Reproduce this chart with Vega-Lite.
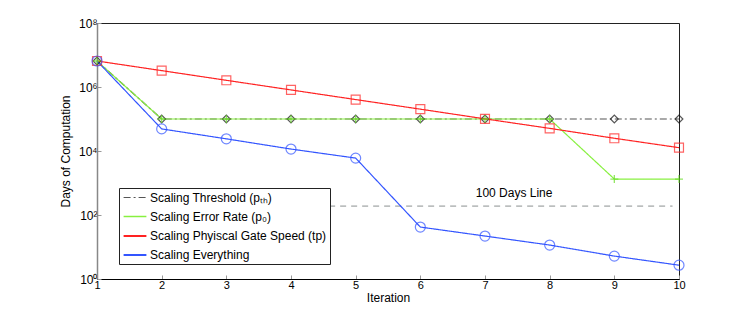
{
  "$schema": "https://vega.github.io/schema/vega-lite/v6.json",
  "autosize": {"type": "none"},
  "width": 582,
  "height": 256,
  "padding": {"left": 97, "top": 23, "right": 68, "bottom": 34},
  "background": "white",
  "config": {
    "font": "Liberation Sans",
    "view": {"stroke": "#222", "strokeWidth": 1},
    "axis": {"grid": false, "labelFont": "Liberation Sans", "titleFont": "Liberation Sans", "labelFontSize": 11, "titleFontSize": 12, "titleFontWeight": "normal", "labelColor": "#000", "titleColor": "#000", "tickColor": "#999", "domainColor": "#222"}
  },
  "datasets": {
    "series": [
      {"iter": 1, "value": 6500000, "series": "Scaling Threshold (pₜₕ)"},
      {"iter": 2, "value": 100000, "series": "Scaling Threshold (pₜₕ)"},
      {"iter": 3, "value": 100000, "series": "Scaling Threshold (pₜₕ)"},
      {"iter": 4, "value": 100000, "series": "Scaling Threshold (pₜₕ)"},
      {"iter": 5, "value": 100000, "series": "Scaling Threshold (pₜₕ)"},
      {"iter": 6, "value": 100000, "series": "Scaling Threshold (pₜₕ)"},
      {"iter": 7, "value": 100000, "series": "Scaling Threshold (pₜₕ)"},
      {"iter": 8, "value": 100000, "series": "Scaling Threshold (pₜₕ)"},
      {"iter": 9, "value": 100000, "series": "Scaling Threshold (pₜₕ)"},
      {"iter": 10, "value": 100000, "series": "Scaling Threshold (pₜₕ)"},
      {"iter": 1, "value": 6500000, "series": "Scaling Error Rate (p₀)"},
      {"iter": 2, "value": 100000, "series": "Scaling Error Rate (p₀)"},
      {"iter": 3, "value": 100000, "series": "Scaling Error Rate (p₀)"},
      {"iter": 4, "value": 100000, "series": "Scaling Error Rate (p₀)"},
      {"iter": 5, "value": 100000, "series": "Scaling Error Rate (p₀)"},
      {"iter": 6, "value": 100000, "series": "Scaling Error Rate (p₀)"},
      {"iter": 7, "value": 100000, "series": "Scaling Error Rate (p₀)"},
      {"iter": 8, "value": 100000, "series": "Scaling Error Rate (p₀)"},
      {"iter": 9, "value": 1330, "series": "Scaling Error Rate (p₀)"},
      {"iter": 10, "value": 1330, "series": "Scaling Error Rate (p₀)"},
      {"iter": 1, "value": 6500000, "series": "Scaling Phyiscal Gate Speed (tp)"},
      {"iter": 2, "value": 3250000, "series": "Scaling Phyiscal Gate Speed (tp)"},
      {"iter": 3, "value": 1620000, "series": "Scaling Phyiscal Gate Speed (tp)"},
      {"iter": 4, "value": 810000, "series": "Scaling Phyiscal Gate Speed (tp)"},
      {"iter": 5, "value": 405000, "series": "Scaling Phyiscal Gate Speed (tp)"},
      {"iter": 6, "value": 203000, "series": "Scaling Phyiscal Gate Speed (tp)"},
      {"iter": 7, "value": 101000, "series": "Scaling Phyiscal Gate Speed (tp)"},
      {"iter": 8, "value": 51000, "series": "Scaling Phyiscal Gate Speed (tp)"},
      {"iter": 9, "value": 25000, "series": "Scaling Phyiscal Gate Speed (tp)"},
      {"iter": 10, "value": 12700, "series": "Scaling Phyiscal Gate Speed (tp)"},
      {"iter": 1, "value": 6500000, "series": "Scaling Everything"},
      {"iter": 2, "value": 49000, "series": "Scaling Everything"},
      {"iter": 3, "value": 24000, "series": "Scaling Everything"},
      {"iter": 4, "value": 11500, "series": "Scaling Everything"},
      {"iter": 5, "value": 6000, "series": "Scaling Everything"},
      {"iter": 6, "value": 42, "series": "Scaling Everything"},
      {"iter": 7, "value": 22, "series": "Scaling Everything"},
      {"iter": 8, "value": 11.5, "series": "Scaling Everything"},
      {"iter": 9, "value": 5.2, "series": "Scaling Everything"},
      {"iter": 10, "value": 2.7, "series": "Scaling Everything"}
    ],
    "hundred": [
      {"iter": 4.59, "value": 190},
      {"iter": 9.9, "value": 190}
    ],
    "label": [
      {"iter": 7.45, "value": 360, "text": "100 Days Line"}
    ]
  },
  "layer": [
    {
      "data": {"name": "hundred"},
      "mark": {"type": "line", "color": "#8a9090", "strokeWidth": 1, "strokeDash": [6, 5]},
      "encoding": {
        "x": {"field": "iter", "type": "quantitative", "scale": {"domain": [1, 10], "nice": false, "zero": false},
          "axis": {"values": [1,2,3,4,5,6,7,8,9,10], "format": "d", "title": "Iteration", "tickSize": -4, "labelPadding": 4, "titlePadding": 2, "domainColor": "#000", "labelFlush": false}},
        "y": {"field": "value", "type": "quantitative", "scale": {"type": "log", "domain": [1, 100000000], "nice": false},
          "axis": {"values": [1, 100, 10000, 1000000, 100000000], "title": "Days of Computation", "tickSize": -4, "labelPadding": 4, "titlePadding": 6, "domainColor": "#888", "domainWidth": 1.5, "labelFontSize": 12,
            "labelExpr": "datum.value == 1 ? '10⁰' : datum.value == 100 ? '10²' : datum.value == 10000 ? '10⁴' : datum.value == 1000000 ? '10⁶' : '10⁸'"}}
      }
    },
    {
      "data": {"name": "label"},
      "mark": {"type": "text", "fontSize": 12, "font": "Liberation Sans", "baseline": "alphabetic", "align": "center", "color": "#000"},
      "encoding": {
        "x": {"field": "iter", "type": "quantitative"},
        "y": {"field": "value", "type": "quantitative"},
        "text": {"field": "text"}
      }
    },
    {
      "data": {"name": "series"},
      "mark": {"type": "line", "strokeWidth": 1.2},
      "encoding": {
        "x": {"field": "iter", "type": "quantitative"},
        "y": {"field": "value", "type": "quantitative"},
        "color": {"field": "series", "type": "nominal", "sort": null,
          "scale": {"domain": ["Scaling Threshold (pₜₕ)", "Scaling Error Rate (p₀)", "Scaling Phyiscal Gate Speed (tp)", "Scaling Everything"], "range": ["#555555", "#88f040", "#ff2222", "#3355ff"]},
          "legend": {"title": null, "orient": "none", "legendX": 22, "legendY": 165, "symbolType": "M-2,0L2,0", "symbolSize": 130, "symbolOffset": 6, "symbolStrokeWidth": 1.2, "labelFontSize": 12, "labelFont": "Liberation Sans", "labelColor": "#000", "labelLimit": 400, "strokeColor": "#222", "fillColor": "white", "padding": 3, "rowPadding": 6, "labelOffset": 8}},
        "strokeDash": {"field": "series", "type": "nominal", "sort": null,
          "scale": {"domain": ["Scaling Threshold (pₜₕ)", "Scaling Error Rate (p₀)", "Scaling Phyiscal Gate Speed (tp)", "Scaling Everything"], "range": [[7, 3, 2, 3], [1, 0], [1, 0], [1, 0]]},
          "legend": {"title": null, "orient": "none", "legendX": 22, "legendY": 165, "symbolType": "M-2,0L2,0", "symbolSize": 130, "symbolOffset": 6, "symbolStrokeWidth": 1.2, "labelFontSize": 12, "labelFont": "Liberation Sans", "labelColor": "#000", "labelLimit": 400, "strokeColor": "#222", "fillColor": "white", "padding": 3, "rowPadding": 6, "labelOffset": 8}},
        "strokeWidth": {"field": "series", "type": "nominal", "sort": null,
          "scale": {"domain": ["Scaling Threshold (pₜₕ)", "Scaling Error Rate (p₀)", "Scaling Phyiscal Gate Speed (tp)", "Scaling Everything"], "range": [1, 2.2, 1.2, 1.2]}, "legend": null}
      }
    },
    {
      "data": {"name": "series"},
      "transform": [{"filter": "datum.series == 'Scaling Threshold (pₜₕ)'"}],
      "mark": {"type": "point", "filled": false, "strokeWidth": 1.2, "shape": "diamond", "size": 60, "color": "#111111"},
      "encoding": {
        "x": {"field": "iter", "type": "quantitative"},
        "y": {"field": "value", "type": "quantitative"}
      }
    },
    {
      "data": {"name": "series"},
      "transform": [{"filter": "datum.series == 'Scaling Error Rate (p₀)'"}],
      "mark": {"type": "point", "filled": false, "strokeWidth": 1.3, "shape": "M-1,0L1,0M0,-1L0,1", "size": 64, "color": "#66dd22"},
      "encoding": {
        "x": {"field": "iter", "type": "quantitative"},
        "y": {"field": "value", "type": "quantitative"}
      }
    },
    {
      "data": {"name": "series"},
      "transform": [{"filter": "datum.series == 'Scaling Phyiscal Gate Speed (tp)'"}],
      "mark": {"type": "point", "filled": false, "strokeWidth": 1.2, "shape": "square", "size": 80, "color": "#ff2222"},
      "encoding": {
        "x": {"field": "iter", "type": "quantitative"},
        "y": {"field": "value", "type": "quantitative"}
      }
    },
    {
      "data": {"name": "series"},
      "transform": [{"filter": "datum.series == 'Scaling Everything'"}],
      "mark": {"type": "point", "filled": false, "strokeWidth": 1.2, "shape": "circle", "size": 100, "color": "#3355ff"},
      "encoding": {
        "x": {"field": "iter", "type": "quantitative"},
        "y": {"field": "value", "type": "quantitative"}
      }
    }
  ]
}
